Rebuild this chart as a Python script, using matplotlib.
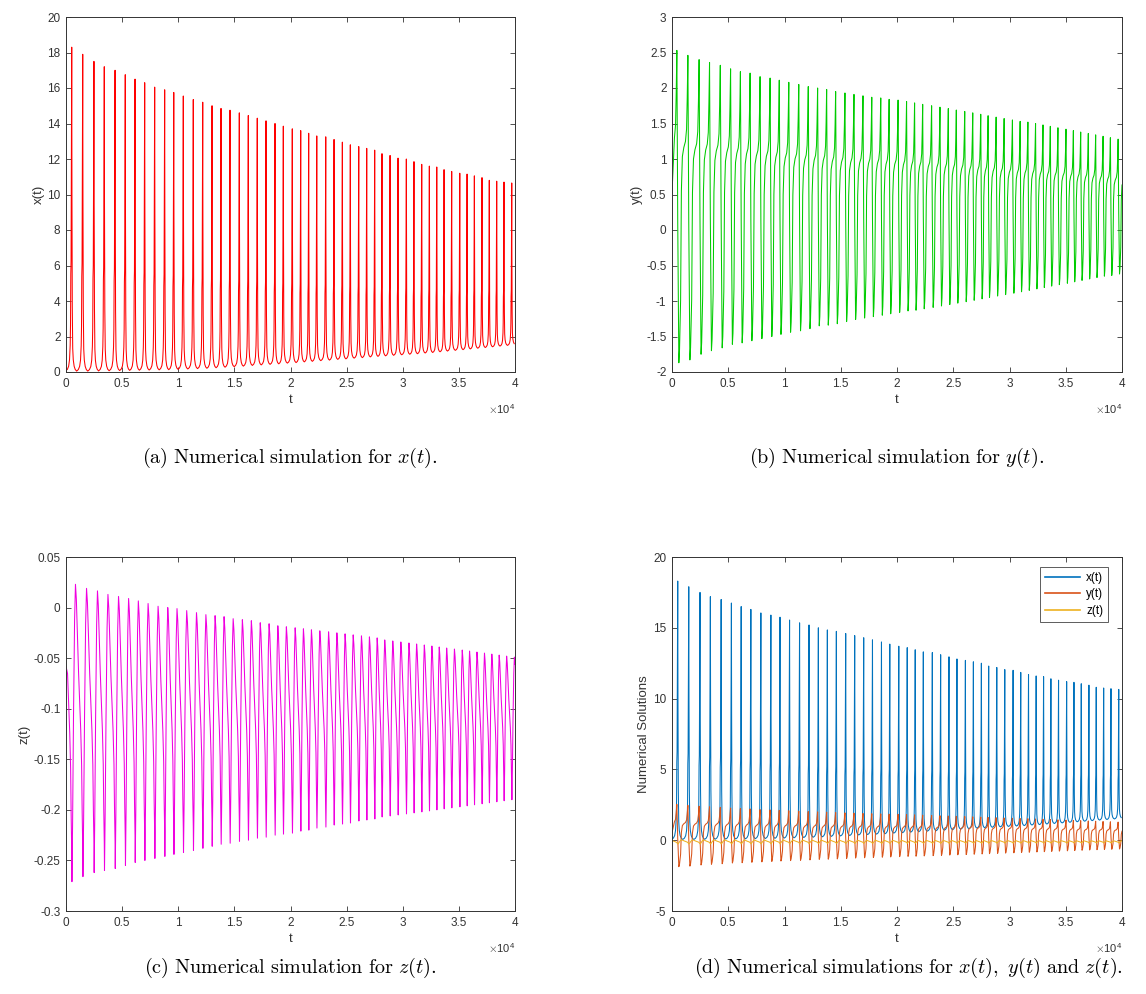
import numpy as np
import matplotlib
matplotlib.use('Agg')
import matplotlib.pyplot as plt

plt.rcParams['font.family'] = ['Liberation Sans', 'DejaVu Sans']
plt.rcParams['mathtext.fontset'] = 'cm'
plt.rcParams['axes.unicode_minus'] = False

# times of the x(t) spikes
peak_t = [510, 1490, 2490, 3410, 4370, 5280, 6150, 7010, 7900, 8790,
          9600, 10450, 11340, 12180, 13010, 13810, 14610, 15440, 16240, 17040,
          17820, 18620, 19360, 20160, 20910, 21620, 22340, 23140, 23880, 24620,
          25330, 26080, 26790, 27500, 28150, 28870, 29580, 30320, 31000, 31690,
          32370, 33030, 33680, 34360, 35080, 35730, 36380, 37060, 37710, 38370,
          39020, 39710]

x_peak = [18.3, 17.9, 17.5, 17.2, 17.0, 16.75, 16.5, 16.3, 16.05, 15.9,
          15.75, 15.55, 15.35, 15.2, 15.0, 14.85, 14.75, 14.6, 14.45, 14.3,
          14.15, 14.0, 13.85, 13.7, 13.6, 13.45, 13.3, 13.25, 13.1, 12.95,
          12.8, 12.7, 12.6, 12.5, 12.3, 12.2, 12.05, 12.0, 11.85, 11.7,
          11.6, 11.55, 11.4, 11.3, 11.2, 11.15, 11.05, 10.95, 10.8, 10.75,
          10.7, 10.65]
x_trough = [0.05, 0.05, 0.06, 0.07, 0.08, 0.09, 0.1, 0.11, 0.12, 0.13,
            0.15, 0.17, 0.19, 0.21, 0.24, 0.27, 0.3, 0.33, 0.37, 0.4,
            0.43, 0.46, 0.5, 0.53, 0.57, 0.6, 0.64, 0.67, 0.71, 0.74,
            0.78, 0.81, 0.85, 0.88, 0.91, 0.94, 0.97, 1.0, 1.03, 1.07,
            1.1, 1.14, 1.18, 1.22, 1.26, 1.3, 1.34, 1.38, 1.42, 1.46,
            1.5, 1.55]

y_peak = [2.53, 2.46, 2.40, 2.36, 2.32, 2.27, 2.23, 2.21, 2.16, 2.14,
          2.11, 2.08, 2.05, 2.02, 2.0, 1.98, 1.95, 1.93, 1.91, 1.89,
          1.87, 1.86, 1.84, 1.83, 1.81, 1.79, 1.77, 1.75, 1.73, 1.71,
          1.69, 1.67, 1.65, 1.63, 1.61, 1.59, 1.57, 1.55, 1.53, 1.52,
          1.5, 1.48, 1.46, 1.44, 1.42, 1.4, 1.38, 1.36, 1.34, 1.32,
          1.3, 1.28]
y_trough = [-1.87, -1.83, -1.75, -1.70, -1.66, -1.61, -1.59, -1.56, -1.53, -1.50,
            -1.47, -1.44, -1.42, -1.39, -1.35, -1.34, -1.32, -1.29, -1.26, -1.24,
            -1.22, -1.2, -1.18, -1.16, -1.14, -1.13, -1.11, -1.09, -1.07, -1.05,
            -1.03, -1.01, -0.99, -0.97, -0.95, -0.93, -0.91, -0.89, -0.87, -0.85,
            -0.83, -0.81, -0.79, -0.77, -0.75, -0.73, -0.71, -0.69, -0.67, -0.65,
            -0.64, -0.62]

z_peak = [0.023, 0.019, 0.0165, 0.013, 0.011, 0.009, 0.0066, 0.004, 0.0013, 0.0,
          -0.001, -0.003, -0.005, -0.007, -0.008, -0.009, -0.011, -0.012, -0.013, -0.015,
          -0.016, -0.018, -0.019, -0.020, -0.021, -0.022, -0.023, -0.024, -0.025, -0.026,
          -0.027, -0.028, -0.029, -0.030, -0.032, -0.033, -0.034, -0.035, -0.036, -0.037,
          -0.038, -0.039, -0.040, -0.041, -0.042, -0.043, -0.044, -0.045, -0.046, -0.047,
          -0.048, -0.049]
z_trough = [-0.271, -0.266, -0.262, -0.260, -0.258, -0.255, -0.252, -0.250, -0.248, -0.246,
            -0.244, -0.242, -0.240, -0.238, -0.236, -0.234, -0.233, -0.231, -0.230, -0.228,
            -0.227, -0.225, -0.224, -0.223, -0.221, -0.220, -0.218, -0.217, -0.215, -0.214,
            -0.213, -0.211, -0.210, -0.209, -0.207, -0.206, -0.205, -0.204, -0.203, -0.202,
            -0.201, -0.200, -0.199, -0.198, -0.197, -0.196, -0.195, -0.194, -0.193, -0.192,
            -0.191, -0.190]

# starting values at t = 0
x_start, y_start, z_start = 0.1, 0.52, -0.058

# shape of one cycle between two x spikes (phase, fraction trough->peak)
x_shape = ([0, 0.02, 0.05, 0.09, 0.14, 0.22, 0.32, 0.45, 0.6, 0.72, 0.8, 0.86, 0.89, 0.915, 0.94, 0.96, 0.975, 0.99],
           [1, 0.55, 0.2, 0.07, 0.035, 0.015, 0.005, 0.0, 0.005, 0.015, 0.035, 0.08, 0.14, 0.3, 0.34, 0.6, 0.68, 0.95])
y_shape = ([0.0, 0.1, 0.16, 0.26, 0.33, 0.42, 0.55, 0.7, 0.8, 0.86, 0.92],
           [0.45, 0.0, 0.04, 0.2, 0.55, 0.66, 0.7, 0.72, 0.76, 0.86, 1.0])
z_shape = ([0.0, 0.02, 0.08, 0.16, 0.26, 0.34, 0.42, 0.52, 0.62, 0.72, 0.82, 0.9, 0.95],
           [0.1, 0.0, 0.2, 0.55, 0.88, 1.0, 0.95, 0.82, 0.7, 0.6, 0.5, 0.38, 0.22])


def build(shape, peaks, troughs, start, pshift, tshift, cut):
    n = len(peak_t)
    ts, vs = [0.0], [start]
    for k in range(-1, n):
        i = max(k, 0)
        if k == -1:
            P = peak_t[1] - peak_t[0]
            t0 = peak_t[0] - P
        else:
            P = peak_t[k + 1] - peak_t[k] if k + 1 < n else peak_t[-1] - peak_t[-2]
            t0 = peak_t[k]
        for ph, f in zip(*shape):
            t = t0 + ph * P
            if t < cut or t > 40000:
                continue
            late = ph >= 0.5 and k >= 0
            hi = peaks[min(i + pshift * late, n - 1)]
            lo = troughs[min(i + tshift * late, n - 1)]
            ts.append(t)
            vs.append(lo + f * (hi - lo))
    return np.array(ts), np.array(vs)


tx, xv = build(x_shape, x_peak, x_trough, x_start, 1, 0, 50)
ty, yv = build(y_shape, y_peak, y_trough, y_start, 1, 0, 200)
tz, zv = build(z_shape, z_peak, z_trough, z_start, 0, 1, 100)

W, H = 1146, 994
fig = plt.figure(figsize=(W / 100, H / 100), dpi=100)


def make_axes(l, t, r, b):
    return fig.add_axes([l / W, 1 - b / H, (r - l) / W, (b - t) / H])


def style(ax, ylim, yticks, ylabels, ylab):
    ax.set_xlim(0, 40000)
    ax.set_ylim(*ylim)
    ax.set_xticks(np.arange(0, 40001, 5000))
    ax.set_xticklabels(['0', '0.5', '1', '1.5', '2', '2.5', '3', '3.5', '4'])
    ax.set_yticks(yticks)
    ax.set_yticklabels(ylabels)
    ax.tick_params(direction='in', length=3.5, width=0.6, top=True, right=True,
                   labelsize=8.5, colors='#333333', pad=4)
    for s in ax.spines.values():
        s.set_color('#333333')
        s.set_linewidth(0.7)
    ax.set_xlabel('t', fontsize=9.5, color='#333333', labelpad=3)
    ax.set_ylabel(ylab, fontsize=9.5, color='#333333', labelpad=2)
    ax.text(1.0, -0.085, r'$\times\mathdefault{10^{4}}$', transform=ax.transAxes,
            ha='right', va='top', fontsize=8, color='#333333')


ax_a = make_axes(66, 17, 515, 372)
ax_a.plot(tx, xv, color='#ff0000', lw=0.75)
style(ax_a, (0, 20), range(0, 21, 2), [str(v) for v in range(0, 21, 2)], 'x(t)')

ax_b = make_axes(672, 17, 1122, 372)
ax_b.plot(ty, yv, color='#00cc00', lw=0.75)
yb = np.arange(-2, 3.01, 0.5)
style(ax_b, (-2, 3), yb, ['%g' % v for v in yb], 'y(t)')

ax_c = make_axes(66, 557, 515, 911)
ax_c.plot(tz, zv, color='#f000e0', lw=0.75)
yc = np.arange(-0.3, 0.051, 0.05)
style(ax_c, (-0.3, 0.05), yc, ['%g' % (round(v, 2) + 0.0) for v in yc], 'z(t)')

ax_d = make_axes(672, 557, 1122, 911)
ax_d.plot(tx, xv, color='#0072bd', lw=0.75, label='x(t)')
ax_d.plot(ty, yv, color='#d95319', lw=0.75, label='y(t)')
ax_d.plot(tz, zv, color='#edb120', lw=0.75, label='z(t)')
style(ax_d, (-5, 20), range(-5, 21, 5), [str(v) for v in range(-5, 21, 5)], 'Numerical Solutions')
leg = ax_d.legend(loc='upper right', bbox_to_anchor=(0.969, 0.972), borderaxespad=0,
                  fontsize=8.5, frameon=True, fancybox=False, borderpad=0.4,
                  handlelength=3.0, labelspacing=0.4, handletextpad=0.5)
leg.get_frame().set_edgecolor('#333333')
leg.get_frame().set_linewidth(0.7)
for line in leg.get_lines():
    line.set_linewidth(1.2)

captions = [
    (290, 458, r'$\mathrm{(a)\ Numerical\ simulation\ for\ }x(t).$'),
    (897, 458, r'$\mathrm{(b)\ Numerical\ simulation\ for\ }y(t).$'),
    (290, 968, r'$\mathrm{(c)\ Numerical\ simulation\ for\ }z(t).$'),
    (908, 968, r'$\mathrm{(d)\ Numerical\ simulations\ for\ }x(t)\mathrm{,\ }y(t)\mathrm{\ and\ }z(t).$'),
]
for cx, cy, txt in captions:
    fig.text(cx / W, 1 - cy / H, txt, ha='center', va='center', fontsize=14.5)

fig.savefig('out.png', dpi=100)
